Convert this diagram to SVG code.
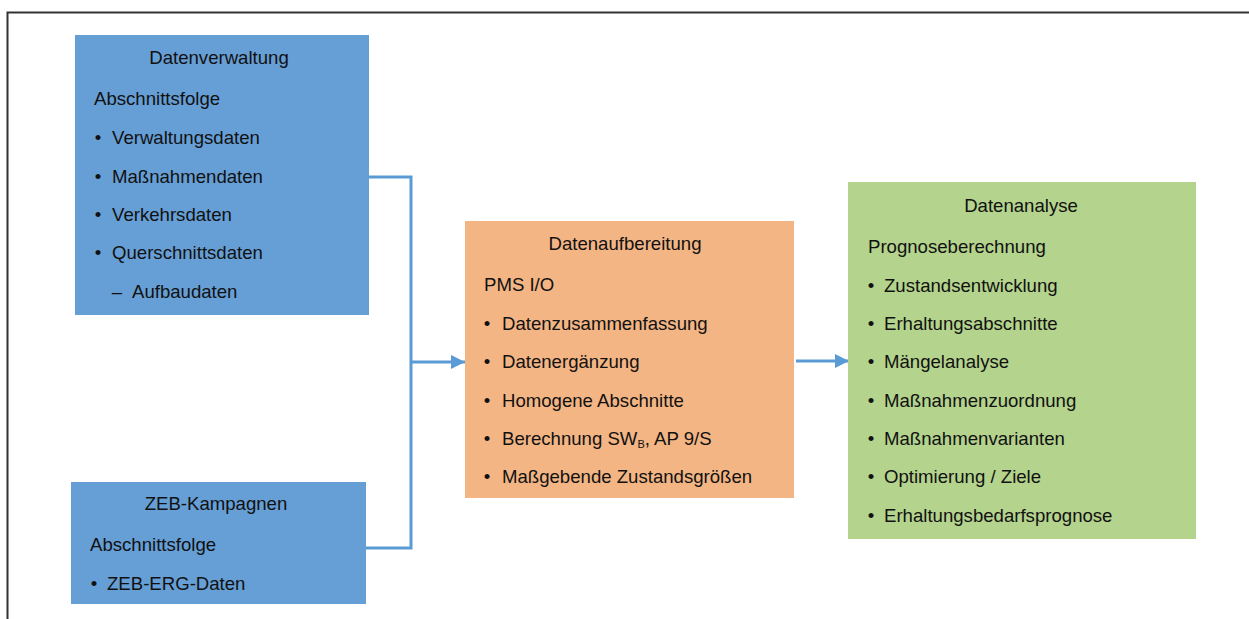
<svg xmlns="http://www.w3.org/2000/svg" width="1249" height="619" viewBox="0 0 1249 619">
<style>
text{font-family:"Liberation Sans",Arial,sans-serif;font-size:18.6px;fill:#111}
.t{text-anchor:middle}
.b{text-anchor:middle}
.c{fill:none;stroke:#5b9bd5;stroke-width:3}
</style>
<defs>
<marker id="ah" viewBox="0 0 10 10" refX="10" refY="5" markerWidth="14" markerHeight="14" markerUnits="userSpaceOnUse" orient="auto">
<path d="M0,0 L10,5 L0,10 z" fill="#5b9bd5"/>
</marker>
</defs>
<rect width="1249" height="619" fill="#fff"/>
<path d="M7.5,619 V12.5 H1249" fill="none" stroke="#333" stroke-width="2"/>
<g id="connectors">
<path class="c" d="M369,177 H411 V548 H366"/>
<path class="c" d="M411,362 H465" marker-end="url(#ah)"/>
<path class="c" d="M796,361 H849" marker-end="url(#ah)"/>
</g>
<g id="datenverwaltung">
<rect x="75" y="35" width="294" height="280" fill="#669fd6"/>
<text class="t" x="219" y="64">Datenverwaltung</text>
<text x="94" y="105">Abschnittsfolge</text>
<text class="b" x="98" y="144">•</text><text x="112" y="144">Verwaltungsdaten</text>
<text class="b" x="98" y="183">•</text><text x="112" y="183">Maßnahmendaten</text>
<text class="b" x="98" y="221">•</text><text x="112" y="221">Verkehrsdaten</text>
<text class="b" x="98" y="259">•</text><text x="112" y="259">Querschnittsdaten</text>
<text class="b" x="117" y="298">–</text><text x="132" y="298">Aufbaudaten</text>
</g>
<g id="zeb">
<rect x="71" y="482" width="295" height="122" fill="#669fd6"/>
<text class="t" x="216" y="510">ZEB-Kampagnen</text>
<text x="90" y="551">Abschnittsfolge</text>
<text class="b" x="94" y="590">•</text><text x="107" y="590">ZEB-ERG-Daten</text>
</g>
<g id="datenaufbereitung">
<rect x="465" y="221" width="329" height="277" fill="#f4b584"/>
<text class="t" x="625" y="250">Datenaufbereitung</text>
<text x="484" y="291">PMS I/O</text>
<text class="b" x="487" y="330">•</text><text x="502" y="330">Datenzusammenfassung</text>
<text class="b" x="487" y="368">•</text><text x="502" y="368">Datenergänzung</text>
<text class="b" x="487" y="407">•</text><text x="502" y="407">Homogene Abschnitte</text>
<text class="b" x="487" y="445">•</text><text x="502" y="445">Berechnung SW<tspan font-size="11" dy="3">B</tspan><tspan dy="-3">, AP 9/S</tspan></text>
<text class="b" x="487" y="483">•</text><text x="502" y="483">Maßgebende Zustandsgrößen</text>
</g>
<g id="datenanalyse">
<rect x="848" y="182" width="348" height="357" fill="#b4d38c"/>
<text class="t" x="1021" y="212">Datenanalyse</text>
<text x="868" y="253">Prognoseberechnung</text>
<text class="b" x="871" y="292">•</text><text x="884" y="292">Zustandsentwicklung</text>
<text class="b" x="871" y="330">•</text><text x="884" y="330">Erhaltungsabschnitte</text>
<text class="b" x="871" y="368">•</text><text x="884" y="368">Mängelanalyse</text>
<text class="b" x="871" y="407">•</text><text x="884" y="407">Maßnahmenzuordnung</text>
<text class="b" x="871" y="445">•</text><text x="884" y="445">Maßnahmenvarianten</text>
<text class="b" x="871" y="483">•</text><text x="884" y="483">Optimierung / Ziele</text>
<text class="b" x="871" y="522">•</text><text x="884" y="522">Erhaltungsbedarfsprognose</text>
</g>
</svg>
